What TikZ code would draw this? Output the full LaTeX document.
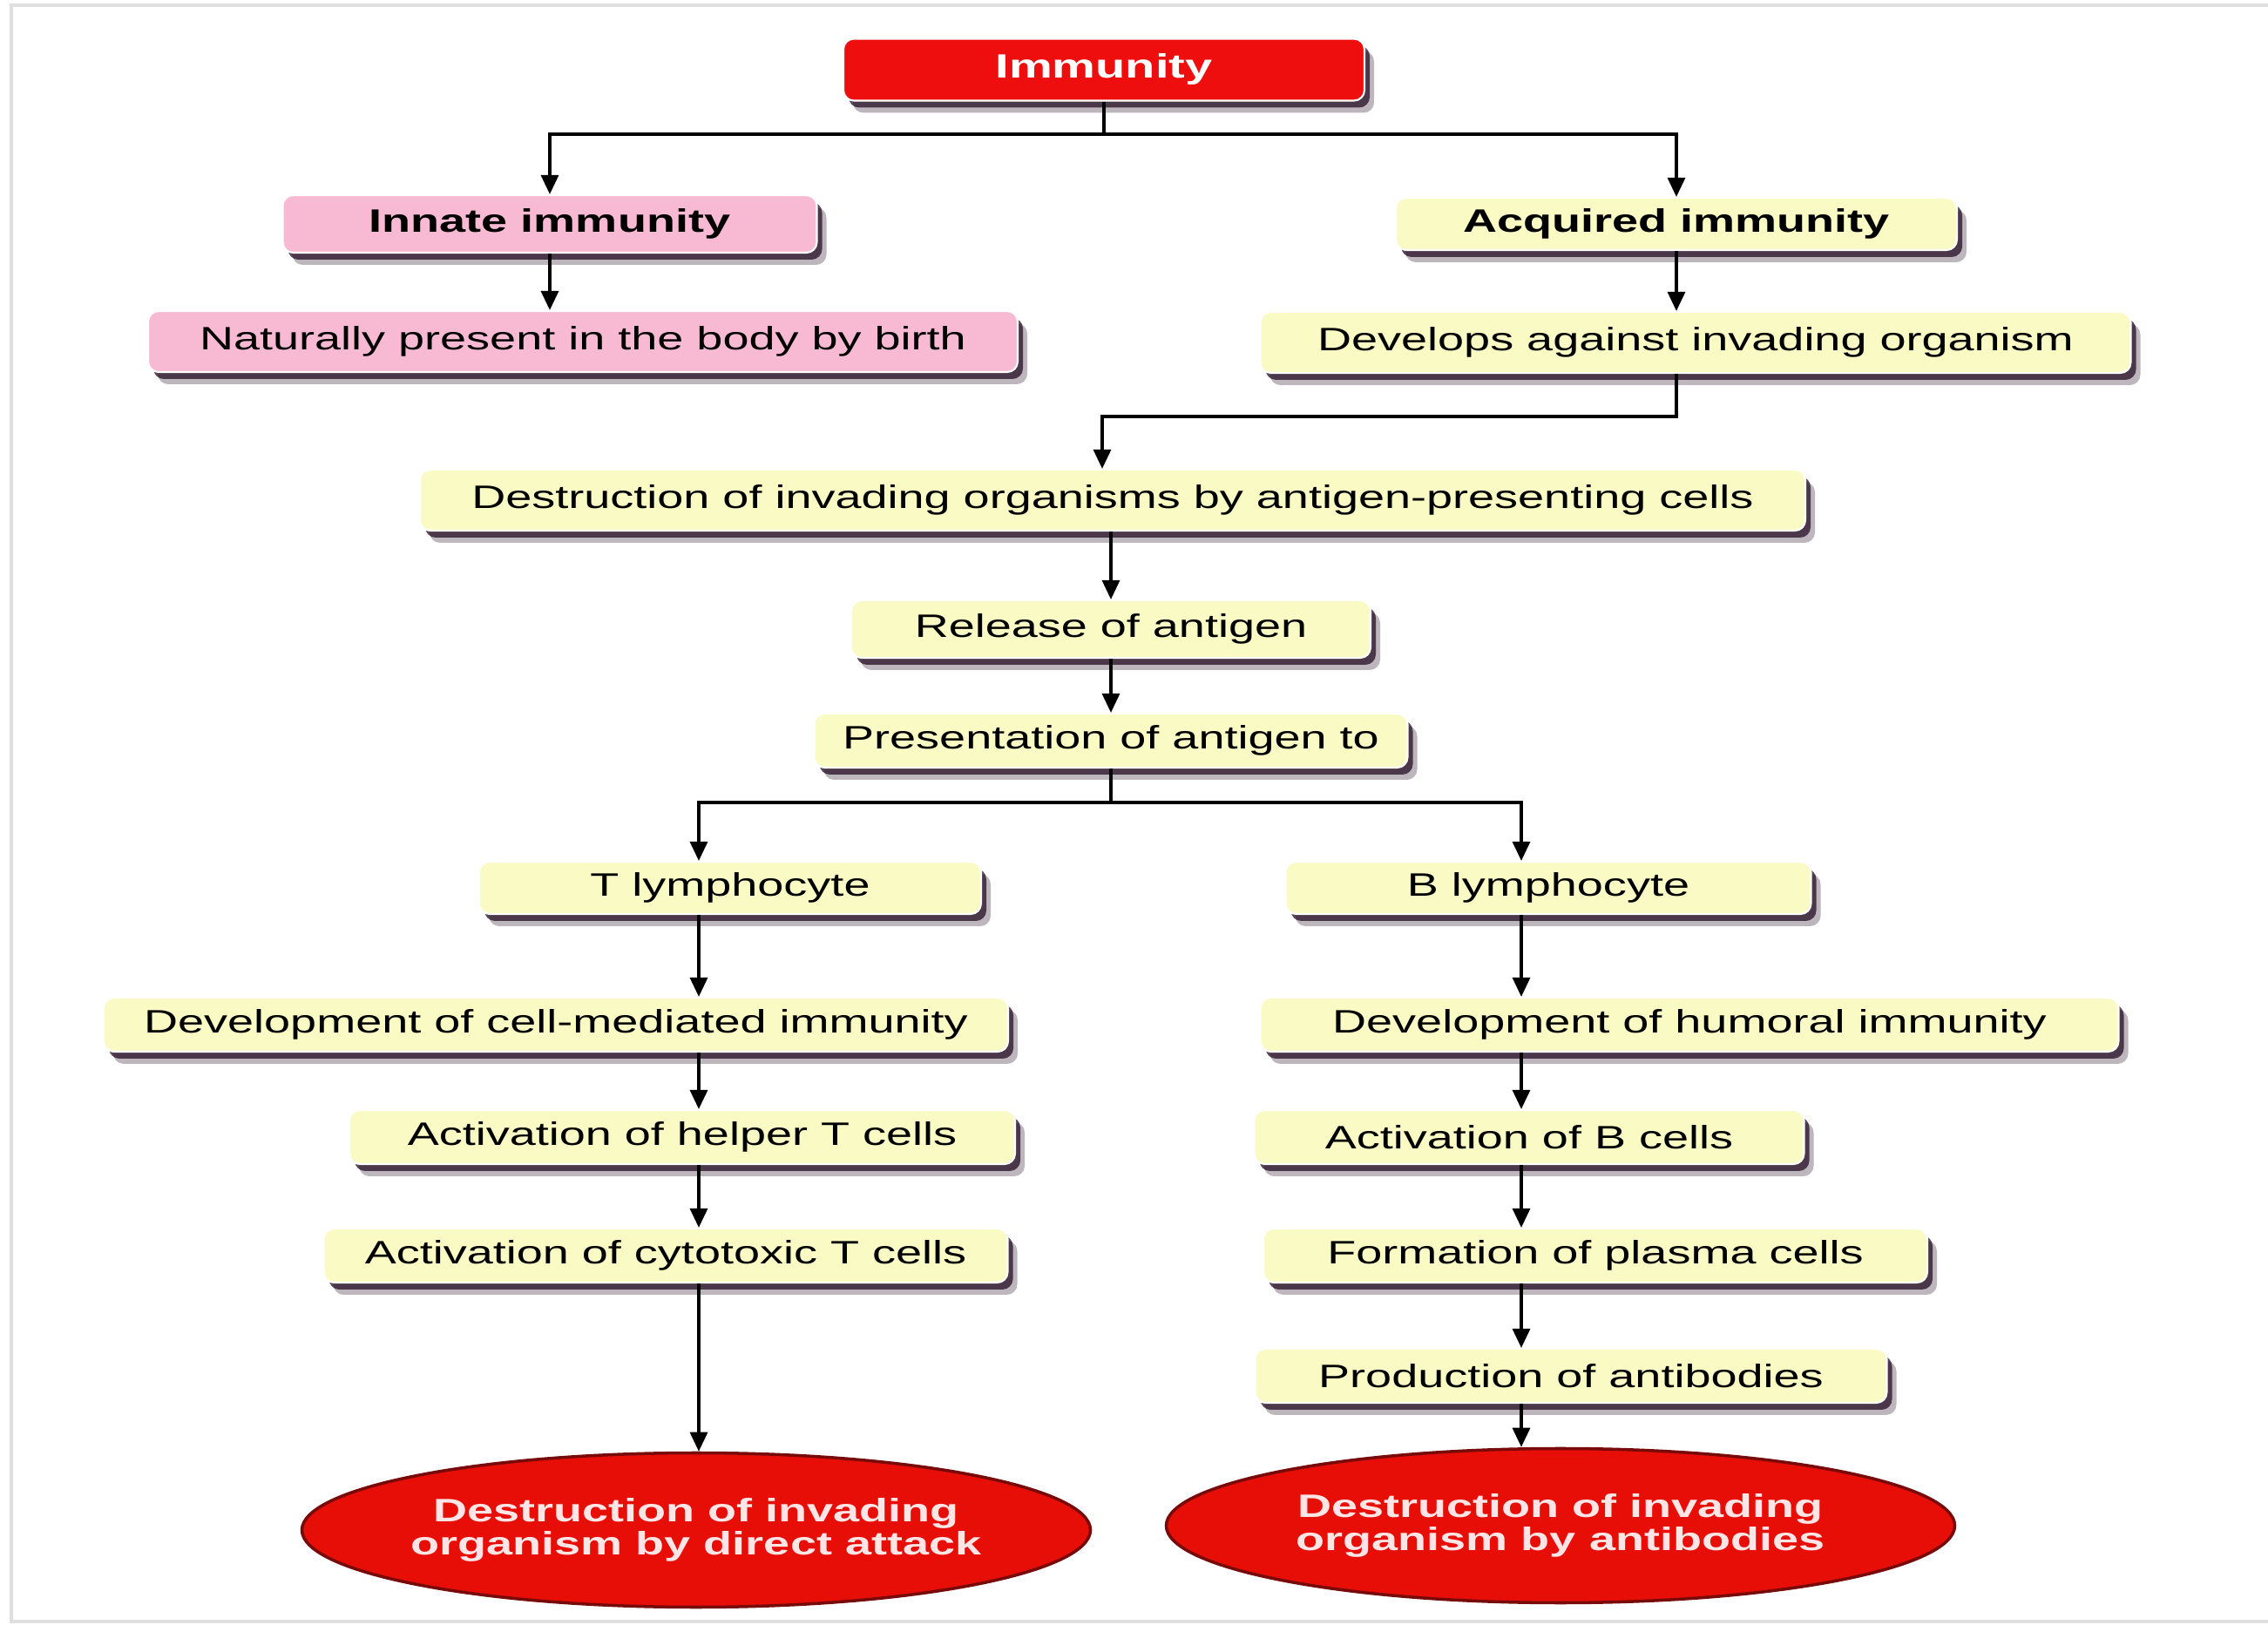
\documentclass[tikz,border=0pt]{standalone}
\usepackage{fontspec}
\setmainfont[FakeStretch=1.45]{Liberation Sans}
\usetikzlibrary{arrows.meta,shapes.geometric,shadows}
\definecolor{boxyellow}{RGB}{250,250,196}
\definecolor{boxpink}{RGB}{248,186,210}
\definecolor{immred}{RGB}{238,14,14}
\definecolor{ellred}{RGB}{232,14,8}
\definecolor{ellborder}{RGB}{120,10,10}
\definecolor{shadowcol}{RGB}{35,12,35}
\begin{document}
\begin{tikzpicture}[
    txt/.style={font=\fontsize{10.6}{10.8}\selectfont},
    box/.style={txt, rounded corners=0.12cm, inner sep=0, minimum height=0.62cm,
      draw=white, line width=0.6pt,
      drop shadow={shadow xshift=0.11cm, shadow yshift=-0.14cm, fill=shadowcol, opacity=0.3},
      drop shadow={shadow xshift=0.06cm, shadow yshift=-0.08cm, fill=shadowcol, opacity=0.75}},
    yellowbox/.style={box, fill=boxyellow},
    pinkbox/.style={box, fill=boxpink},
    redbox/.style={box, fill=immred, text=white, font=\fontsize{11}{12}\selectfont\bfseries},
    endell/.style={txt, ellipse, fill=ellred, draw=ellborder, line width=1pt, text=white!90!red,
      font=\fontsize{10.6}{10.8}\selectfont\bfseries, align=center, inner ysep=0, inner xsep=-1.2cm,
      minimum width=9.05cm, minimum height=1.77cm},
    line/.style={line width=0.9pt},
    arr/.style={line, -{Triangle[length=0.22cm,width=0.2cm]}}
  ]
   \useasboundingbox (0,0) rectangle (26.03,18.64);
   %FRAME
   \draw[gray!25, line width=1.2pt] (26.03,18.58) -- (0.13,18.58) -- (0.13,0.03) -- (26.03,0.03);

   %IMMUNITY
   \node (imm) at (12.67,17.84) [redbox, minimum width=5.98cm, minimum height=0.71cm] {Immunity};
   \coordinate (topsplit) at (12.67,17.10);

   %INNATE
   \node (innate) at (6.31,16.07) [pinkbox, minimum width=6.13cm, minimum height=0.66cm] {\bfseries Innate immunity};
   \node (natural) at (6.69,14.72) [pinkbox, minimum width=9.98cm, minimum height=0.70cm] {Naturally present in the body by birth};

   %ACQUIRED
   \node (acq) at (19.24,16.07) [yellowbox, minimum width=6.44cm, minimum height=0.60cm] {\bfseries Acquired immunity};
   \node (develop) at (19.46,14.71) [yellowbox, minimum width=9.99cm, minimum height=0.70cm] {Develops against invading organism};
   \coordinate (apcsplit) at (12.65,13.86);

   \node (apc) at (12.77,12.90) [yellowbox, minimum width=15.90cm, minimum height=0.70cm] {Destruction of invading organisms by antigen-presenting cells};
   \node (release) at (12.75,11.42) [yellowbox, minimum width=5.96cm, minimum height=0.66cm] {Release of antigen};
   \node (present) at (12.75,10.14) [yellowbox, minimum width=6.81cm] {Presentation of antigen to};
   \coordinate (lcol) at (8.02,9.43);
   \coordinate (rcol) at (17.46,9.43);

   %T LYMPHOCYTE
   \node (tlym) at (8.38,8.45) [yellowbox, minimum width=5.76cm, minimum height=0.60cm] {T lymphocyte};
   \node (cellmed) at (6.38,6.88) [yellowbox, minimum width=10.38cm] {Development of cell-mediated immunity};
   \node (helper) at (7.83,5.59) [yellowbox, minimum width=7.64cm] {Activation of helper T cells};
   \node (cyto) at (7.64,4.23) [yellowbox, minimum width=7.85cm] {Activation of cytotoxic T cells};
   \node (attack) at (7.99,1.08) [endell] {Destruction of invading\\organism by direct attack};

   %B LYMPHOCYTE
   \node (blym) at (17.77,8.45) [yellowbox, minimum width=6.03cm, minimum height=0.60cm] {B lymphocyte};
   \node (humoral) at (19.39,6.88) [yellowbox, minimum width=9.85cm] {Development of humoral immunity};
   \node (actb) at (17.55,5.59) [yellowbox, minimum width=6.31cm] {Activation of B cells};
   \node (plasma) at (18.31,4.23) [yellowbox, minimum width=7.62cm] {Formation of plasma cells};
   \node (antibody) at (18.03,2.85) [yellowbox, minimum width=7.25cm] {Production of antibodies};
   \node (byanti) at (17.91,1.13) [endell] {Destruction of invading\\organism by antibodies};

   %ARROWS
   \draw[line] (imm.south) -- (topsplit);
   \draw[arr] (topsplit) -| (innate.north);
   \draw[arr] (topsplit) -| (acq.north);
   \draw[arr] (innate.south) -- (innate.south |- natural.north);
   \draw[arr] (acq.south) -- (acq.south |- develop.north);
   \draw[arr] (develop.south -| acq) |- (apcsplit) -- (apc.north -| apcsplit);
   \draw[arr] (apc.south -| release) -- (release.north);
   \draw[arr] (release.south) -- (present.north);
   \draw[arr] (present.south) |- (lcol) -- (tlym.north -| lcol);
   \draw[arr] (present.south) |- (rcol) -- (blym.north -| rcol);

   \draw[arr] (tlym.south -| lcol) -- (cellmed.north -| lcol);
   \draw[arr] (cellmed.south -| lcol) -- (helper.north -| lcol);
   \draw[arr] (helper.south -| lcol) -- (cyto.north -| lcol);
   \draw[arr] (cyto.south -| lcol) -- (attack.north -| lcol);

   \draw[arr] (blym.south -| rcol) -- (humoral.north -| rcol);
   \draw[arr] (humoral.south -| rcol) -- (actb.north -| rcol);
   \draw[arr] (actb.south -| rcol) -- (plasma.north -| rcol);
   \draw[arr] (plasma.south -| rcol) -- (antibody.north -| rcol);
   \draw[arr] (antibody.south -| rcol) -- (byanti.north -| rcol);
\end{tikzpicture}
\end{document}
